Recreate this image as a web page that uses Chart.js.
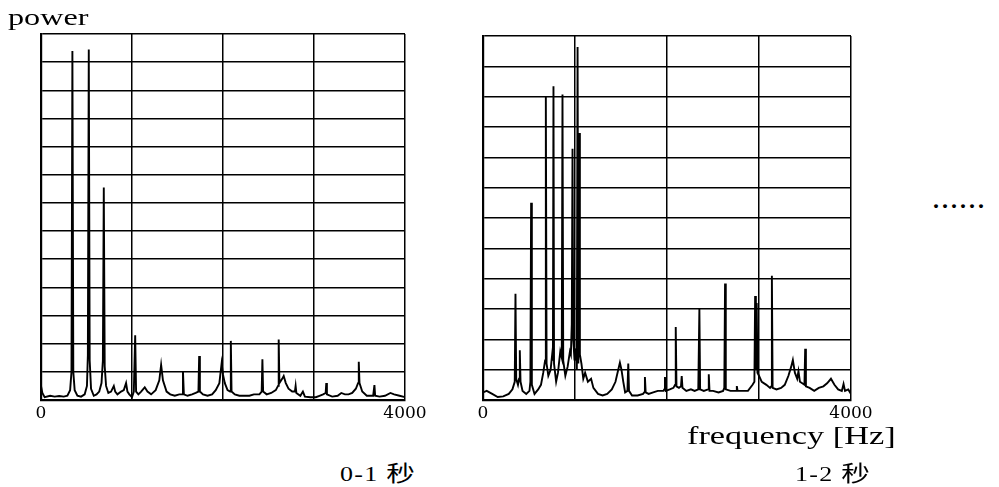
<!DOCTYPE html>
<html>
<head>
<meta charset="utf-8">
<script src="https://cdn.jsdelivr.net/npm/chart.js@4.4.1/dist/chart.umd.min.js"></script>
<style>
  body { margin: 0; background: #fff; width: 999px; height: 487px; overflow: hidden; position: relative; }
  canvas { position: absolute; top: 0; }
  .txt { position: absolute; color: #000; font-family: "Liberation Serif", "Noto Sans CJK SC", serif; white-space: nowrap; line-height: 1; transform-origin: left top; }
</style>
</head>
<body>
<canvas id="chartA" width="440" height="430" style="left:0"></canvas>
<canvas id="chartB" width="440" height="430" style="left:440px"></canvas>

<div class="txt" style="left:8px; top:6px; font-size:23px; transform:scaleX(1.4)">power</div>
<div class="txt" style="left:687px; top:423px; font-size:26px; transform:scaleX(1.32)">frequency [Hz]</div>
<div class="txt" style="left:340px; top:463px; font-size:20px; letter-spacing:1px; transform:scaleX(1.3)">0-1 <span style="font-size:22px">秒</span></div>
<div class="txt" style="left:795px; top:463px; font-size:20px; letter-spacing:1px; transform:scaleX(1.3)">1-2 <span style="font-size:22px">秒</span></div>
<div class="txt" style="left:933px; top:188px; font-size:24px; font-weight:bold; letter-spacing:3px">......</div>

<script>
  // 0-1 s spectrum
  var freqA = [0, 15, 40, 100, 150, 200, 250, 290, 320, 335, 345, 355, 370, 400, 440, 480, 505, 515, 525, 535, 550, 580, 610, 640, 665, 680, 690, 700, 715, 740, 770, 800, 815, 840, 880, 910, 935, 950, 970, 1000, 1020, 1035, 1045, 1070, 1100, 1140, 1170, 1210, 1260, 1300, 1320, 1340, 1380, 1420, 1470, 1520, 1550, 1560, 1570, 1610, 1660, 1700, 1730, 1738, 1746, 1780, 1830, 1880, 1920, 1960, 1985, 2000, 2020, 2050, 2078, 2086, 2094, 2130, 2180, 2240, 2290, 2340, 2400, 2425, 2433, 2441, 2480, 2530, 2580, 2605, 2612, 2620, 2650, 2667, 2690, 2720, 2760, 2790, 2798, 2806, 2850, 2878, 2900, 2960, 3020, 3060, 3100, 3128, 3135, 3142, 3200, 3260, 3300, 3340, 3380, 3420, 3460, 3484, 3492, 3500, 3530, 3580, 3650, 3664, 3672, 3720, 3780, 3840, 3880, 3940, 4000];
  var powerA = [0.5, 0.25, 0.1, 0.15, 0.12, 0.14, 0.12, 0.15, 0.35, 1.0, 12.4, 1.0, 0.35, 0.15, 0.12, 0.2, 0.5, 1.6, 12.45, 1.4, 0.4, 0.15, 0.2, 0.3, 0.6, 1.4, 7.55, 1.2, 0.5, 0.25, 0.3, 0.5, 0.3, 0.2, 0.3, 0.35, 0.6, 0.3, 0.2, 0.1, 0.3, 2.3, 0.3, 0.2, 0.3, 0.45, 0.3, 0.2, 0.35, 0.7, 1.25, 0.7, 0.3, 0.2, 0.15, 0.2, 0.2, 1.03, 0.2, 0.15, 0.2, 0.25, 0.3, 1.56, 0.3, 0.2, 0.15, 0.2, 0.35, 0.6, 1.3, 0.9, 0.6, 0.35, 0.3, 2.1, 0.3, 0.2, 0.15, 0.15, 0.15, 0.2, 0.2, 0.3, 1.45, 0.3, 0.2, 0.25, 0.35, 0.5, 2.15, 0.6, 0.75, 0.85, 0.6, 0.4, 0.3, 0.3, 0.5, 0.25, 0.15, 0.3, 0.12, 0.1, 0.1, 0.15, 0.2, 0.25, 0.6, 0.2, 0.12, 0.15, 0.25, 0.2, 0.2, 0.25, 0.4, 0.6, 1.36, 0.6, 0.3, 0.15, 0.15, 0.53, 0.15, 0.12, 0.15, 0.25, 0.2, 0.15, 0.1];

  // 1-2 s spectrum
  var freqB = [0, 40, 100, 160, 220, 280, 320, 345, 353, 361, 380, 392, 400, 408, 430, 470, 505, 515, 523, 531, 560, 600, 630, 655, 675, 683, 691, 710, 735, 752, 760, 766, 772, 795, 815, 840, 856, 864, 872, 895, 920, 945, 955, 965, 973, 981, 995, 1012, 1020, 1028, 1036, 1045, 1053, 1070, 1090, 1110, 1140, 1175, 1200, 1250, 1300, 1350, 1400, 1440, 1470, 1488, 1505, 1525, 1545, 1570, 1579, 1587, 1620, 1680, 1740, 1752, 1760, 1768, 1800, 1850, 1900, 1960, 1970, 1978, 1986, 2030, 2070, 2087, 2095, 2103, 2130, 2152, 2160, 2168, 2210, 2260, 2300, 2340, 2352, 2360, 2400, 2446, 2454, 2462, 2500, 2560, 2610, 2623, 2631, 2639, 2690, 2751, 2759, 2767, 2820, 2880, 2930, 2950, 2958, 2966, 2975, 2983, 3000, 3030, 3080, 3120, 3133, 3140, 3148, 3190, 3240, 3280, 3320, 3350, 3368, 3390, 3415, 3429, 3445, 3470, 3494, 3502, 3510, 3550, 3600, 3650, 3700, 3740, 3782, 3820, 3860, 3900, 3919, 3935, 3970, 4000];
  var powerB = [0.25, 0.3, 0.2, 0.1, 0.12, 0.2, 0.35, 0.6, 3.5, 0.7, 0.5, 0.7, 1.64, 0.6, 0.3, 0.2, 0.3, 0.6, 6.5, 0.5, 0.2, 0.35, 0.5, 0.9, 1.3, 10.0, 1.2, 0.8, 1.0, 1.5, 1.3, 10.34, 1.2, 0.6, 0.9, 1.6, 1.4, 10.07, 1.3, 0.8, 1.1, 1.6, 1.5, 2.5, 8.28, 2.0, 1.3, 1.7, 1.0, 11.64, 1.2, 8.8, 1.5, 1.2, 0.7, 0.9, 0.6, 0.7, 0.4, 0.2, 0.15, 0.2, 0.35, 0.6, 1.0, 1.23, 1.0, 0.6, 0.25, 0.3, 1.2, 0.3, 0.15, 0.15, 0.2, 0.25, 0.76, 0.25, 0.2, 0.25, 0.3, 0.3, 0.35, 0.76, 0.3, 0.35, 0.4, 0.5, 2.41, 0.45, 0.4, 0.45, 0.79, 0.4, 0.3, 0.35, 0.3, 0.35, 3.0, 0.35, 0.3, 0.35, 0.85, 0.3, 0.3, 0.25, 0.3, 0.4, 3.84, 0.35, 0.3, 0.3, 0.46, 0.3, 0.3, 0.3, 0.5, 0.6, 3.43, 1.0, 3.2, 0.9, 0.8, 0.6, 0.5, 0.4, 0.45, 4.1, 0.4, 0.35, 0.4, 0.5, 0.8, 1.1, 1.32, 0.9, 0.7, 0.95, 0.6, 0.55, 0.5, 1.69, 0.45, 0.4, 0.3, 0.4, 0.45, 0.55, 0.7, 0.5, 0.35, 0.3, 0.53, 0.3, 0.35, 0.2];

  var xTicks = [0, 4000];

  function makeChart(id, freq, power, yMax, pad) {
    var ctx = document.getElementById(id).getContext('2d');
    return new Chart(ctx, {
      type: 'line',
      data: {
        datasets: [{
          data: freq.map(function (f, i) { return { x: f, y: power[i] }; }),
          borderColor: '#000',
          borderWidth: 1.9,
          pointRadius: 0,
          tension: 0,
          fill: false
        }]
      },
      options: {
        responsive: false,
        animation: false,
        devicePixelRatio: 1,
        layout: { padding: pad },
        plugins: { legend: { display: false }, tooltip: { enabled: false } },
        scales: {
          x: {
            type: 'linear',
            min: 0,
            max: 4000,
            ticks: {
              stepSize: 1000,
              autoSkip: false,
              maxRotation: 0,
              padding: 3,
              color: '#000',
              font: { family: 'DejaVu Serif', size: 17 },
              callback: function (v) { return xTicks.indexOf(v) >= 0 ? String(v) : ''; }
            },
            grid: { color: '#000', lineWidth: 1.5, drawTicks: false },
            border: { color: '#000', width: 2.2 },
            afterFit: function (s) { s.height = 30; }
          },
          y: {
            min: 0,
            max: yMax,
            ticks: { display: false, stepSize: 1 },
            grid: { color: '#000', lineWidth: 1.5, drawTicks: false },
            border: { color: '#000', width: 2.2 },
            afterFit: function (s) { s.width = 0; }
          }
        }
      }
    });
  }

  makeChart('chartA', freqA, powerA, 13, { left: 41, top: 34, right: 35, bottom: 0 });
  makeChart('chartB', freqB, powerB, 12, { left: 43, top: 36, right: 29, bottom: 0 });
</script>
</body>
</html>
